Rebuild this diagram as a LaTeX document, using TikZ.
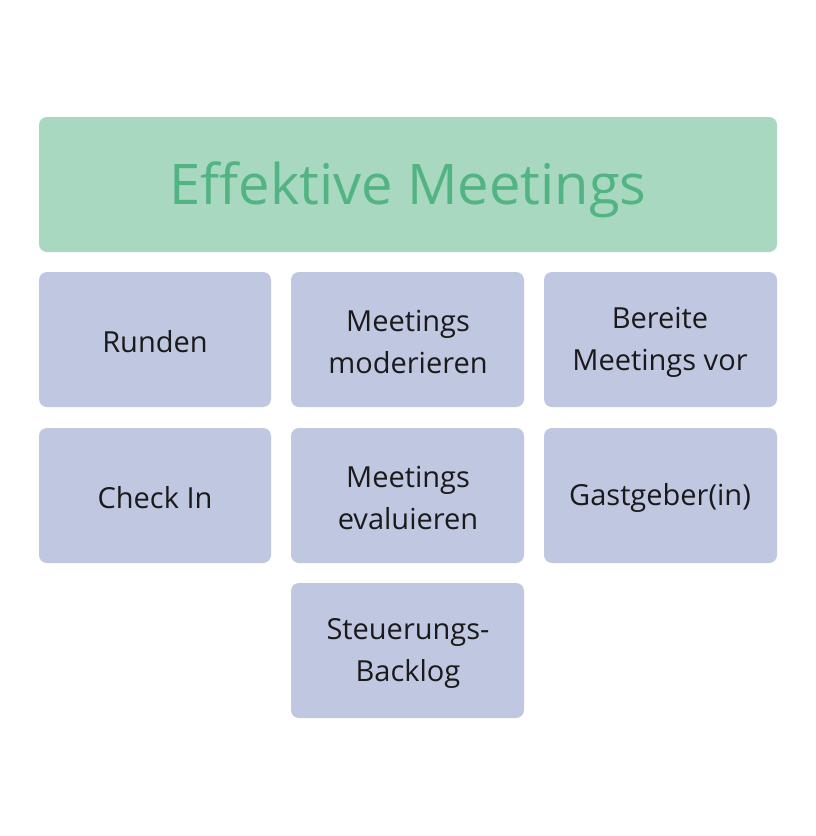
\documentclass[tikz,border=0pt]{standalone}
\usepackage{fontspec}
\setmainfont{Open Sans}
\definecolor{hdrfill}{HTML}{A8D8C0}
\definecolor{hdrtext}{HTML}{52B482}
\definecolor{boxfill}{HTML}{C0C7E0}
\definecolor{boxtext}{HTML}{1A1A1A}
\begin{document}
\begin{tikzpicture}[x=1pt,y=-1pt,
  hdr/.style={fill=hdrfill,draw=none,rounded corners=8pt},
  item/.style={fill=boxfill,draw=none,rounded corners=8pt},
  lbl/.style={align=center,text=boxtext,font=\fontsize{29}{42}\selectfont,inner sep=0pt}]
\useasboundingbox (0,0) rectangle (816,836);
\fill[white] (0,0) rectangle (816,836);
\draw[hdr] (39,117) rectangle (777,252);
\node[text=hdrtext,font=\fontsize{56}{60}\selectfont,inner sep=0pt] (title) at (408,190) {Effektive Meetings};
% row 1
\draw[item] (39,272) rectangle (271,407);
\node[lbl] (runden) at (155,342) {Runden};
\draw[item] (291,272) rectangle (524,407);
\node[lbl] (mod) at (408,342) {Meetings\\moderieren};
\draw[item] (544,272) rectangle (777,407);
\node[lbl] (vor) at (660,342) {Bereite\\Meetings vor};
% row 2
\draw[item] (39,428) rectangle (271,563);
\node[lbl] (check) at (155,498) {Check In};
\draw[item] (291,428) rectangle (524,563);
\node[lbl] (eval) at (408,498) {Meetings\\evaluieren};
\draw[item] (544,428) rectangle (777,563);
\node[lbl] (gast) at (660,498) {Gastgeber(in)};
% row 3
\draw[item] (291,583) rectangle (524,718);
\node[lbl] (backlog) at (408,653) {Steuerungs-\\Backlog};
\end{tikzpicture}
\end{document}
